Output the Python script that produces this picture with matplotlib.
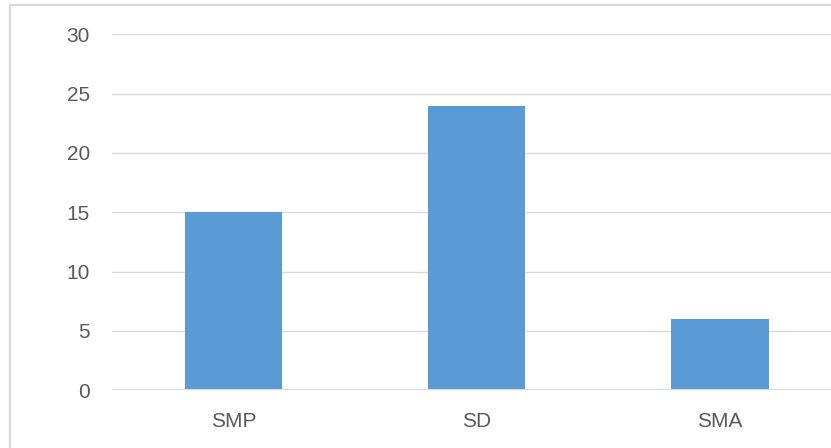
import matplotlib
matplotlib.use("Agg")
import matplotlib.pyplot as plt
from matplotlib.patches import Rectangle

categories = ["SMP", "SD", "SMA"]
values = [15, 24, 6]
yticks = [0, 5, 10, 15, 20, 25, 30]

W, H = 831, 448
fig = plt.figure(figsize=(W / 100, H / 100), dpi=100)
plt.rcParams['font.family'] = ['Liberation Sans', 'DejaVu Sans']

# outer chart border
fig.patches.append(Rectangle((10 / W, -0.1), 1.2, (H - 5) / H + 0.1,
                             transform=fig.transFigure, fill=False,
                             edgecolor="#D9D9D9", linewidth=1.6))

ax = fig.add_axes([112 / W, 58 / H, 729.5 / W, 355.5 / H])
x = list(range(len(categories)))
ax.bar(x, values, width=0.4, color="#5B9BD5", zorder=3)
ax.set_xlim(-0.5, len(categories) - 0.5)
ax.set_ylim(0, 30)
ax.set_yticks(yticks)
ax.set_xticks(x)
ax.set_xticklabels(categories)
ax.grid(axis="y", color="#D9D9D9", linewidth=1.0, zorder=0)
ax.axhline(0, color="#D9D9D9", linewidth=1.5, zorder=4)
for s in ax.spines.values():
    s.set_visible(False)
ax.tick_params(axis="both", length=0, labelsize=15, labelcolor="#595959")
ax.tick_params(axis="y", pad=16)
ax.tick_params(axis="x", pad=16)
fig.savefig("out.png", dpi=100)
